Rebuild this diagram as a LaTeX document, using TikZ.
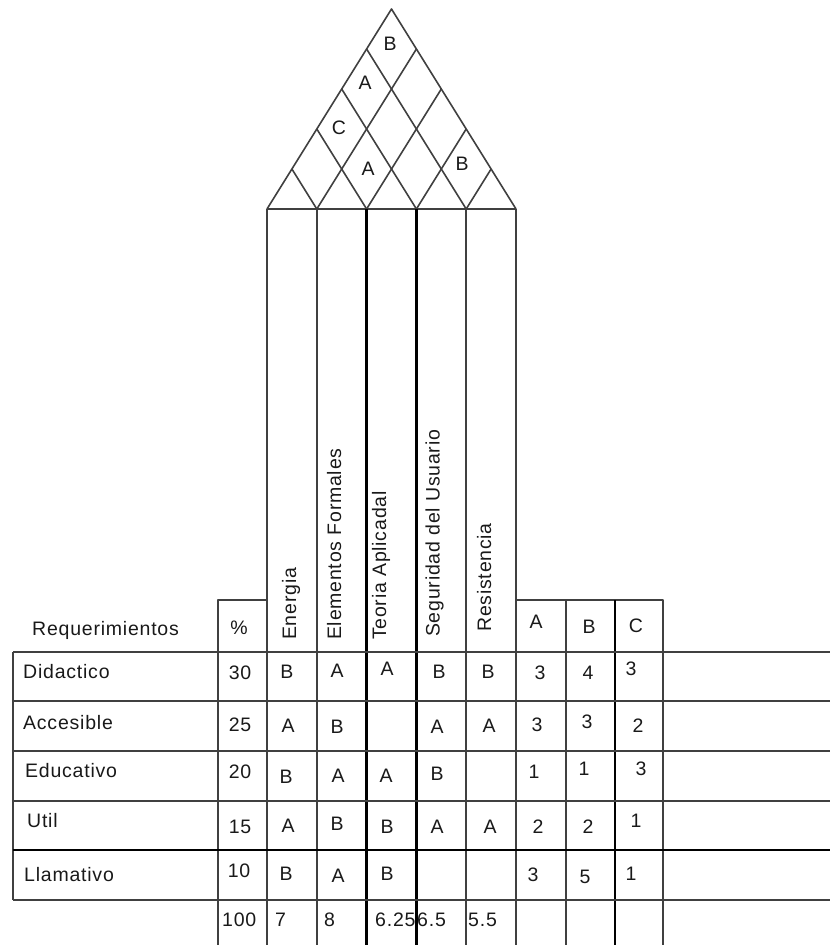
\documentclass[tikz,border=0pt]{standalone}
\usepackage{fontspec}
\newfontfamily\qfont{Liberation Sans}[LetterSpace=4]
\begin{document}
\begin{tikzpicture}[x=1pt,y=-1pt,
  thinline/.style={draw=black!75, line width=1.6pt, line join=round},
  thickline/.style={draw=black, line width=2.6pt},
  txt/.style={font=\qfont\fontsize{19.5}{22}\selectfont, text=black!90, inner sep=0pt, anchor=base},
  ltxt/.style={txt, anchor=base west},
  vtxt/.style={txt, rotate=90, anchor=base west}]
\useasboundingbox (0,0) rectangle (830,945);
% ---------- roof ----------
\draw[thinline] (267,209) -- (391.5,9) -- (516,209) -- cycle;
\foreach \k in {1,2,3,4}{
  \draw[thinline] ({267+49.8*\k},209) -- ({267+24.9*\k},{209-40*\k});
  \draw[thinline] ({267+49.8*\k},209) -- ({516-24.9*(5-\k)},{209-40*(5-\k)});
}
% ---------- header boxes ----------
\draw[thinline] (218,945) -- (218,600) -- (267,600);
\draw[thinline] (516,600) -- (663,600) -- (663,945);
\draw[thinline] (566,600) -- (566,945);
\draw[thickline] (615,600) -- (615,945);
\draw[thinline] (267,209) -- (267,945);
\draw[thinline] (316.8,209) -- (316.8,945);
\draw[thickline] (366.6,209) -- (366.6,945);
\draw[thickline] (416.4,209) -- (416.4,945);
\draw[thinline] (466.2,209) -- (466.2,945);
\draw[thinline] (516,209) -- (516,945);
% ---------- rows ----------
\draw[thinline] (13,652) -- (13,900);
\foreach \yy in {652,701,751,801,900}{\draw[thinline] (13,\yy) -- (830,\yy);}
\draw[thickline] (13,850) -- (830,850);
% ---------- roof letters ----------
\node[txt] (r1) at (390,50) {B};
\node[txt] (r2) at (365,89) {A};
\node[txt] (r3) at (339,134) {C};
\node[txt] (r4) at (368,175) {A};
\node[txt] (r5) at (462,170) {B};
% ---------- header texts ----------
\node[ltxt] (req) at (32,635) {Requerimientos};
\node[txt] (pct) at (239,634) {\%};
\node[vtxt] (c1) at (296,640) {Energia};
\node[vtxt] (c2) at (341,640) {Elementos Formales};
\node[vtxt] (c3) at (386,640) {Teoria Aplicadal};
\node[vtxt] (c4) at (439.5,637) {Seguridad del Usuario};
\node[vtxt] (c5) at (491,632) {Resistencia};
\node[txt] (ha) at (536,628) {A};
\node[txt] (hb) at (589,633) {B};
\node[txt] (hc) at (636,632) {C};
% ---------- row labels ----------
\node[ltxt] (l1) at (23,678) {Didactico};
\node[ltxt] (l2) at (23,729) {Accesible};
\node[ltxt] (l3) at (25,777) {Educativo};
\node[ltxt] (l4) at (27,827) {Util};
\node[ltxt] (l5) at (24,881) {Llamativo};
% ---------- row 1 ----------
\node[txt] (p1) at (240,679) {30};
\node[txt] (a11) at (287,678) {B};
\node[txt] (a12) at (337,677) {A};
\node[txt] (a13) at (387,675) {A};
\node[txt] (a14) at (439,678) {B};
\node[txt] (a15) at (488,678) {B};
\node[txt] (n11) at (540,679) {3};
\node[txt] (n12) at (588,679) {4};
\node[txt] (n13) at (631,675) {3};
% ---------- row 2 ----------
\node[txt] (p2) at (240,731) {25};
\node[txt] (a21) at (288,732) {A};
\node[txt] (a22) at (337,733) {B};
\node[txt] (a24) at (437,733) {A};
\node[txt] (a25) at (489,732) {A};
\node[txt] (n21) at (537,731) {3};
\node[txt] (n22) at (587,728) {3};
\node[txt] (n23) at (638,732) {2};
% ---------- row 3 ----------
\node[txt] (p3) at (240,778) {20};
\node[txt] (a31) at (286,783) {B};
\node[txt] (a32) at (338,782) {A};
\node[txt] (a33) at (386,782) {A};
\node[txt] (a34) at (437,780) {B};
\node[txt] (n31) at (534,778) {1};
\node[txt] (n32) at (584,775) {1};
\node[txt] (n33) at (641,775) {3};
% ---------- row 4 ----------
\node[txt] (p4) at (240,833) {15};
\node[txt] (a41) at (288,832) {A};
\node[txt] (a42) at (337,830) {B};
\node[txt] (a43) at (387,833) {B};
\node[txt] (a44) at (437,833) {A};
\node[txt] (a45) at (490,833) {A};
\node[txt] (n41) at (538,833) {2};
\node[txt] (n42) at (588,833) {2};
\node[txt] (n43) at (636,827) {1};
% ---------- row 5 ----------
\node[txt] (p5) at (239,877) {10};
\node[txt] (a51) at (286,880) {B};
\node[txt] (a52) at (338,882) {A};
\node[txt] (a53) at (387,880) {B};
\node[txt] (n51) at (533,881) {3};
\node[txt] (n52) at (585,883) {5};
\node[txt] (n53) at (631,880) {1};
% ---------- totals ----------
\node[ltxt] (t0) at (222,926) {100};
\node[ltxt] (t1) at (275,926) {7};
\node[ltxt] (t2) at (324,926) {8};
\node[ltxt] (t3) at (375,926) {6.25};
\node[ltxt] (t4) at (417,926) {6.5};
\node[ltxt] (t5) at (468,926) {5.5};
\end{tikzpicture}
\end{document}
